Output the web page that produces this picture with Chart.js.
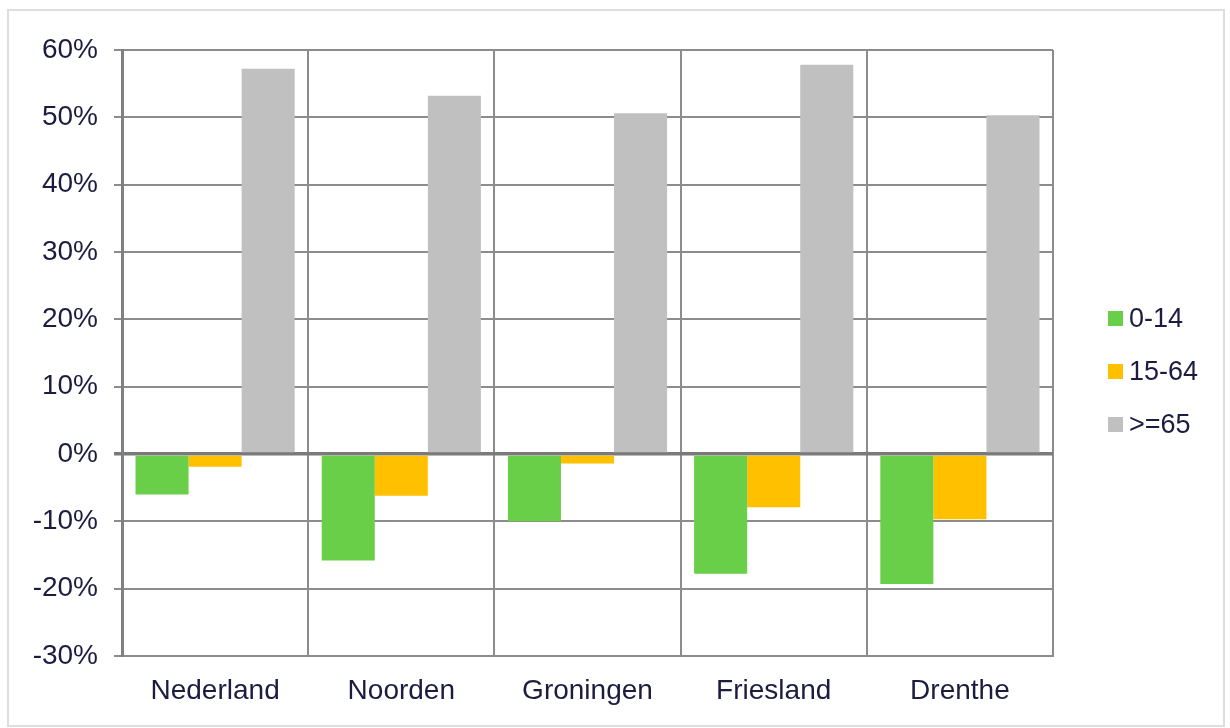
<!DOCTYPE html>
<html>
<head>
<meta charset="utf-8">
<script src="https://cdn.jsdelivr.net/npm/chart.js@4.4.1/dist/chart.umd.min.js"></script>
<style>
  html, body { margin: 0; padding: 0; background: #fff; }
  #wrap { position: relative; width: 1230px; height: 728px; overflow: hidden; }
  #frame { position: absolute; left: 7px; top: 9px; width: 1214px; height: 714px; border: 2px solid #dedede; }
  #chart { position: absolute; left: 0; top: 0; }
  #legend { position: absolute; left: 1108px; top: 303px; font-family: "Liberation Sans", Arial, sans-serif; font-size: 27px; color: #1c1c40; }
  #legend .item { height: 30px; line-height: 30px; margin-bottom: 23px; display: flex; align-items: center; }
  #legend .box { width: 15px; height: 15px; margin-right: 6px; }
</style>
</head>
<body>
<div id="wrap">
  <div id="frame"></div>
  <canvas id="chart" width="1230" height="728"></canvas>
  <div id="legend"></div>
</div>
<script>
// data (percent change)
var regions = ["Nederland", "Noorden", "Groningen", "Friesland", "Drenthe"];
var seriesNames = ["0-14", "15-64", ">=65"];
var seriesColors = ["#6ACF48", "#FFC000", "#C0C0C0"];
var age0_14 = [-6.0, -15.8, -10.0, -17.8, -19.3];
var age15_64 = [-1.9, -6.2, -1.4, -7.9, -9.7];
var age65plus = [57.2, 53.2, 50.6, 57.8, 50.3];
var yTicks = [-30, -20, -10, 0, 10, 20, 30, 40, 50, 60];

var textColor = "#1c1c40";
var gridColor = "#8c8c8c";
var fontFamily = '"Liberation Sans", Arial, sans-serif';

var seriesData = [age0_14, age15_64, age65plus];
var datasets = [];
for (var i = 0; i < seriesNames.length; i++) {
    datasets.push({
        label: seriesNames[i],
        data: seriesData[i],
        backgroundColor: seriesColors[i],
        borderWidth: 0,
        categoryPercentage: 0.855,
        barPercentage: 1.0
    });
}

// legend as html
var legendEl = document.getElementById("legend");
seriesNames.forEach(function(name, i){
    var item = document.createElement("div");
    item.className = "item";
    var box = document.createElement("span");
    box.className = "box";
    box.style.background = seriesColors[i];
    var txt = document.createElement("span");
    txt.textContent = name;
    item.appendChild(box);
    item.appendChild(txt);
    legendEl.appendChild(item);
});

var ctx = document.getElementById("chart").getContext("2d");
new Chart(ctx, {
    type: 'bar',
    data: { labels: regions, datasets: datasets },
    options: {
        responsive: false,
        animation: false,
        layout: { padding: { left: 0, right: 177, top: 50, bottom: 0 } },
        plugins: { legend: { display: false }, tooltip: { enabled: false } },
        scales: {
            x: {
                grid: { offset: true, color: gridColor, lineWidth: 2, drawTicks: false },
                border: { display: true, color: gridColor, width: 2 },
                ticks: { color: textColor, font: { family: fontFamily, size: 28 }, padding: 18 },
                afterFit: function(scale){ scale.height = 72; }
            },
            y: {
                min: -30,
                max: 60,
                afterBuildTicks: function(scale){
                    scale.ticks = yTicks.map(function(v){ return { value: v }; });
                },
                grid: {
                    color: function(c){ return c.tick && c.tick.value === 0 ? "#7a7a7a" : gridColor; },
                    lineWidth: function(c){ return c.tick && c.tick.value === 0 ? 3.5 : 2; },
                    tickLength: 8
                },
                border: { display: true, color: "#808080", width: 3 },
                ticks: {
                    color: textColor,
                    font: { family: fontFamily, size: 28 },
                    padding: 16,
                    callback: function(v){ return v + '%'; }
                },
                afterFit: function(scale){ scale.width = 122; }
            }
        }
    }
});
</script>
</body>
</html>
